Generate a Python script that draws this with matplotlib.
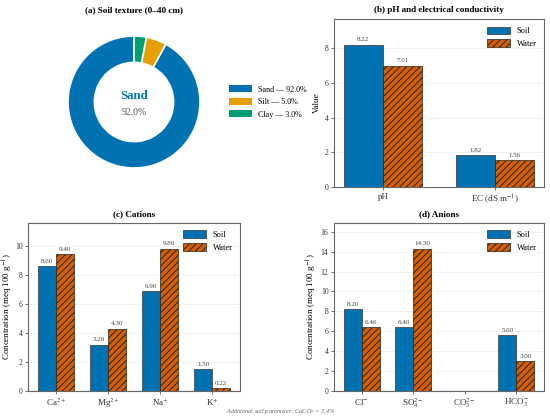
import matplotlib

matplotlib.use("Agg")
import matplotlib.pyplot as plt
import numpy as np
from matplotlib.patches import Patch

# --- data -----------------------------------------------------------------
texture_labels = ["Sand", "Silt", "Clay"]
texture_pct = [92.0, 5.0, 3.0]

phec_cats = ["pH", "EC (dS m$^{-1}$)"]
phec_soil = [8.22, 1.82]
phec_water = [7.01, 1.56]

cation_cats = ["Ca$^{2+}$", "Mg$^{2+}$", "Na$^{+}$", "K$^{+}$"]
cation_soil = [8.60, 3.20, 6.90, 1.50]
cation_water = [9.40, 4.30, 9.80, 0.22]

anion_cats = ["Cl$^{-}$", "SO$_4^{2-}$", "CO$_3^{2-}$", "HCO$_3^{-}$"]
anion_soil = [8.20, 6.40, 0.0, 5.60]
anion_water = [6.46, 14.30, 0.0, 3.00]

BLUE = "#0072B2"
ORANGE = "#D55E00"
TEXTURE_COLORS = [BLUE, "#E69F00", "#009E73"]

plt.rcParams["font.family"] = ["Liberation Serif", "DejaVu Serif"]
plt.rcParams["mathtext.fontset"] = "stix"
plt.rcParams["hatch.linewidth"] = 0.7

W, H = 550, 420
fig = plt.figure(figsize=(5.5, 4.2), dpi=100)


def px_axes(left, top, right, bottom):
    return fig.add_axes([left / W, 1 - bottom / H, (right - left) / W, (bottom - top) / H])


def grouped_bars(ax, cats, soil, water, title, ylabel, label_x):
    x = np.arange(len(cats))
    w = 0.35
    b1 = ax.bar(x - w / 2, soil, w, color=BLUE, edgecolor="#333333", linewidth=0.5,
                label="Soil", zorder=3)
    b2 = ax.bar(x + w / 2, water, w, color=ORANGE, edgecolor="#222222", linewidth=0.5,
                hatch="/////", label="Water", zorder=3)
    for bars in (b1, b2):
        for r in bars:
            h = r.get_height()
            if h > 0:
                ax.text(r.get_x() + r.get_width() / 2, h + max(soil + water) * 0.015,
                        f"{h:.2f}", ha="center", va="bottom", fontsize=5, color="#444444")
    ax.set_ylim(0, max(soil + water) * 1.18)
    ax.set_xticks(x)
    ax.set_xticklabels(cats, fontsize=6.5)
    ax.tick_params(axis="y", labelsize=5.5, length=2, width=0.5, colors="#333333", pad=2)
    ax.tick_params(axis="x", length=2, width=0.5, colors="#333333", pad=2)
    ax.set_ylabel(ylabel, fontsize=6.5)
    ax.yaxis.set_label_coords(label_x, 0.5)
    ax.set_title(title, fontsize=6.6, fontweight="bold", pad=5)
    ax.yaxis.grid(True, color="#ececec", linewidth=0.6, zorder=0)
    ax.set_axisbelow(True)
    for s in ax.spines.values():
        s.set_color("#666666")
        s.set_linewidth(0.8)
    ax.legend(loc="upper right", fontsize=6, frameon=False, handlelength=2.8,
              handleheight=1.0, borderaxespad=0.5, labelspacing=0.5)


# (a) donut
ax_a = px_axes(51.5, 19.5, 216.5, 184.5)
wedges, _ = ax_a.pie(texture_pct, colors=TEXTURE_COLORS, startangle=90,
                     wedgeprops=dict(width=0.4, edgecolor="white", linewidth=1.2))
ax_a.set_xlim(-1.25, 1.25)
ax_a.set_ylim(-1.25, 1.25)
ax_a.set_aspect("equal")
ax_a.text(0, 0.09, texture_labels[0], ha="center", va="center", fontsize=9.3,
          fontweight="bold", color=BLUE)
ax_a.text(0, -0.16, f"{texture_pct[0]:.1f}%", ha="center", va="center", fontsize=7,
          color="#555555")
fig.text(134 / W, 1 - 10 / H, "(a) Soil texture (0–40 cm)", ha="center", va="center",
         fontsize=6.6, fontweight="bold")
handles = [Patch(facecolor=c) for c in TEXTURE_COLORS]
labels = [f"{n} — {p:.1f}%" for n, p in zip(texture_labels, texture_pct)]
fig.legend(handles, labels, loc="center left", bbox_to_anchor=(222 / W, 1 - 102 / H),
           fontsize=5.8, frameon=False, handlelength=2.8, handleheight=0.9,
           labelspacing=0.55, handletextpad=0.8)

# (b) pH and EC
ax_b = px_axes(334, 19, 544, 187)
grouped_bars(ax_b, phec_cats, phec_soil, phec_water,
             "(b) pH and electrical conductivity", "Value", -0.062)

# (c) cations
ax_c = px_axes(28, 223, 240, 391)
grouped_bars(ax_c, cation_cats, cation_soil, cation_water,
             "(c) Cations", "Concentration (meq 100 g$^{-1}$)", -0.062)

# (d) anions
ax_d = px_axes(334, 223, 544, 391)
grouped_bars(ax_d, anion_cats, anion_soil, anion_water,
             "(d) Anions", "Concentration (meq 100 g$^{-1}$)", -0.072)

fig.text(0.51, 1 - 411 / H, "Additional soil parameter: CaCO$_3$ = 3.4%", ha="center",
         va="center", fontsize=4.5, style="italic", color="#666666")

fig.savefig("out.png", dpi=100)
